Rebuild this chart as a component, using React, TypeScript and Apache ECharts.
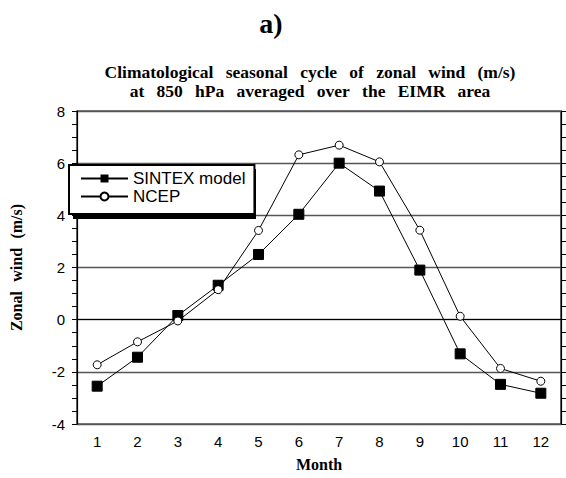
import React, { useEffect, useRef } from "react";
import * as echarts from "echarts";

const months = ["1", "2", "3", "4", "5", "6", "7", "8", "9", "10", "11", "12"];
const sintexModel = [-2.55, -1.44, 0.16, 1.32, 2.5, 4.04, 6.0, 4.93, 1.9, -1.31, -2.48, -2.82];
const ncep = [-1.73, -0.85, -0.05, 1.15, 3.42, 6.32, 6.69, 6.05, 3.43, 0.13, -1.87, -2.36];
const seriesNames = ["SINTEX model", "NCEP"];
const panelLabel = "a)";
const SEP = "\u2002\u2009";
const titleLine1 = ["Climatological", "seasonal", "cycle", "of", "zonal", "wind", "(m/s)"].join(SEP);
const titleLine2 = ["at", "850", "hPa", "averaged", "over", "the", "EIMR", "area"].join(SEP);
const xName = "Month";
const yName = ["Zonal", "wind", "(m/s)"].join("\u2002\u200A");
const yMin = -4;
const yMax = 8;
const yInterval = 2;

const SANS = "'Liberation Sans', Arial, sans-serif";
const SERIF = "'Liberation Serif', 'Times New Roman', serif";

export default function App() {
  const ref = useRef<HTMLDivElement>(null);
  useEffect(() => {
    if (!ref.current) return;
    const chart = echarts.init(ref.current, undefined, { renderer: "svg" });
    const yAxisBase = {
      type: "value",
      min: yMin,
      max: yMax,
      interval: yInterval,
      axisLine: { show: true, lineStyle: { color: "#000", width: 1.2 } },
      axisTick: { show: true, inside: false, length: 5, lineStyle: { color: "#000", width: 1 } },
      minorTick: { show: true, splitNumber: 4, length: 5, lineStyle: { color: "#000", width: 1 } },
    };
    const titleStyle = {
      fontFamily: SERIF,
      fontWeight: "bold",
      fontSize: 17.5,
      lineHeight: 17.5,
      color: "#000",
    };
    chart.setOption({
      animation: false,
      backgroundColor: "#fff",
      title: [
        {
          text: panelLabel,
          left: 266,
          top: 4,
          textAlign: "center",
          textStyle: { fontFamily: SERIF, fontWeight: "bold", fontSize: 28, color: "#000" },
        },
        { text: titleLine1, left: 310, top: 63, textAlign: "center", textStyle: titleStyle, padding: 0 },
        { text: titleLine2, left: 310, top: 82, textAlign: "center", textStyle: titleStyle, padding: 0 },
      ],
      grid: {
        left: 66,
        right: 5,
        top: 111,
        bottom: 54,
        show: true,
        borderColor: "#000",
        borderWidth: 1.2,
        backgroundColor: "transparent",
      },
      legend: {
        data: seriesNames,
        orient: "vertical",
        left: 69,
        top: 165,
        itemWidth: 47,
        itemHeight: 10,
        itemGap: 1,
        padding: [5, 9, 9, 11],
        borderColor: "#000",
        borderWidth: 2,
        backgroundColor: "#fff",
        z: 10,
        textStyle: { fontFamily: SANS, fontSize: 17, color: "#000" },
      },
      graphic: [
        {
          type: "rect",
          z: 9,
          shape: { x: 73, y: 169, width: 183, height: 50 },
          style: { fill: "#000" },
        },
      ],
      xAxis: {
        type: "category",
        data: months,
        boundaryGap: true,
        axisLine: { show: true, lineStyle: { color: "#000", width: 1.2 } },
        axisTick: { show: false },
        axisLabel: { fontFamily: SANS, fontSize: 15, color: "#000", margin: 10 },
        name: xName,
        nameLocation: "middle",
        nameGap: 32,
        nameTextStyle: { fontFamily: SERIF, fontWeight: "bold", fontSize: 16, color: "#000" },
      },
      yAxis: [
        {
          ...yAxisBase,
          position: "left",
          axisLabel: { fontFamily: SANS, fontSize: 15, color: "#000", margin: 12 },
          splitLine: { show: true, lineStyle: { color: "#555", width: 1.4 } },
          name: yName,
          nameLocation: "middle",
          nameGap: 53,
          nameTextStyle: { fontFamily: SERIF, fontWeight: "bold", fontSize: 16, color: "#000" },
        },
        {
          ...yAxisBase,
          position: "right",
          axisLabel: { show: false },
          splitLine: { show: false },
        },
      ],
      series: [
        {
          name: seriesNames[0],
          type: "line",
          data: sintexModel,
          symbol: "rect",
          symbolSize: 10,
          lineStyle: { color: "#000", width: 1 },
          itemStyle: { color: "#000", borderColor: "#000" },
          z: 3,
        },
        {
          name: seriesNames[1],
          type: "line",
          data: ncep,
          symbol: "circle",
          symbolSize: 8,
          lineStyle: { color: "#000", width: 1 },
          itemStyle: { color: "#fff", borderColor: "#000", borderWidth: 1 },
          z: 3,
        },
      ],
    });
    return () => chart.dispose();
  }, []);
  return (
    <div
      ref={ref}
      style={{ position: "absolute", left: 0, top: 0, width: 566, height: 478 }}
    />
  );
}
